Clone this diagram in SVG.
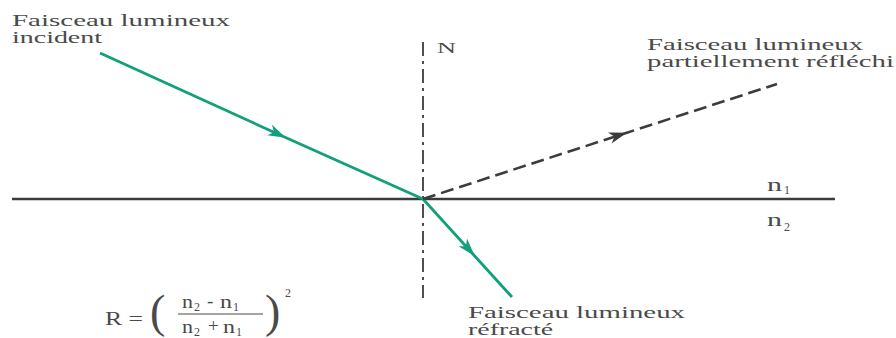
<svg xmlns="http://www.w3.org/2000/svg" width="896" height="338" viewBox="0 0 896 338">
<style>
.t{font-family:"Liberation Serif","DejaVu Serif","Times New Roman",serif;fill:#4a4a4a;}
.lbl{font-size:16px;}
.m{font-size:19px;}
.s{font-size:12px;}
.green{fill:none;stroke:#12a07a;stroke-width:2.8;stroke-linecap:butt;}
.dark{fill:none;stroke:#3c3c3c;}
</style>
<defs>
<marker id="ag" markerUnits="userSpaceOnUse" viewBox="-19 -7 21 14" refX="0" refY="0" markerWidth="21" markerHeight="14" orient="auto">
<path d="M1,0 L-17,-6 L-12,0 L-17,5.5 Z" fill="#12a07a"/>
</marker>
<marker id="ad" markerUnits="userSpaceOnUse" viewBox="-19 -7 21 14" refX="0" refY="0" markerWidth="21" markerHeight="14" orient="auto">
<path d="M1,0 L-17,-6 L-12,0 L-17,5.5 Z" fill="#3a3a3a"/>
</marker>
</defs>

<g id="interface">
<line class="dark" x1="12" y1="199" x2="835" y2="199" stroke-width="2.5"/>
</g>
<g id="normal">
<line class="dark" x1="423" y1="42" x2="423" y2="298" stroke-width="1.8" stroke-dasharray="14 5 3 5"/>
<text class="t" x="437" y="53" font-size="15" textLength="19" lengthAdjust="spacingAndGlyphs">N</text>
</g>

<g id="connectors">
<path id="incident-ray" class="green" d="M100,53 L285,137.3 L423,199" marker-mid="url(#ag)"/>
<path id="refracted-ray" class="green" d="M423,199 L474,255.2 L512,297" marker-mid="url(#ag)"/>
<path id="reflected-ray" class="dark" d="M423,199 L626,133 L777,84" stroke-width="2.6" stroke-dasharray="13 6" marker-mid="url(#ad)"/>
</g>

<g id="label-incident">
<text class="t lbl" x="12" y="26" textLength="218" lengthAdjust="spacingAndGlyphs">Faisceau lumineux</text>
<text class="t lbl" x="12" y="43" textLength="90" lengthAdjust="spacingAndGlyphs">incident</text>
</g>
<g id="label-reflected">
<text class="t lbl" x="647" y="50" textLength="216" lengthAdjust="spacingAndGlyphs">Faisceau lumineux</text>
<text class="t lbl" x="647" y="67" textLength="247" lengthAdjust="spacingAndGlyphs">partiellement réfléchi</text>
</g>
<g id="label-refracted">
<text class="t lbl" x="468" y="318" textLength="217" lengthAdjust="spacingAndGlyphs">Faisceau lumineux</text>
<text class="t lbl" x="468" y="335" textLength="85" lengthAdjust="spacingAndGlyphs">réfracté</text>
</g>
<g id="media">
<text class="t" x="767" y="191" font-size="18" textLength="15" lengthAdjust="spacingAndGlyphs">n</text>
<text class="t" x="784" y="194" font-size="12">1</text>
<text class="t" x="767" y="226" font-size="18" textLength="15" lengthAdjust="spacingAndGlyphs">n</text>
<text class="t" x="784" y="231" font-size="12">2</text>
</g>
<g id="formula">
<text class="t m" x="105" y="325" textLength="38" lengthAdjust="spacingAndGlyphs">R =</text>
<text class="t" x="150" y="327" font-size="46">(</text>
<text class="t m" x="182" y="308" textLength="11" lengthAdjust="spacingAndGlyphs">n</text>
<text class="t s" x="194" y="311">2</text>
<text class="t m" x="207" y="307">-</text>
<text class="t m" x="220" y="308" textLength="12" lengthAdjust="spacingAndGlyphs">n</text>
<text class="t s" x="233" y="311">1</text>
<line x1="178" y1="314" x2="263" y2="314" stroke="#4a4a4a" stroke-width="1.2"/>
<text class="t m" x="182" y="333" textLength="11" lengthAdjust="spacingAndGlyphs">n</text>
<text class="t s" x="194" y="336">2</text>
<text class="t m" x="208" y="332">+</text>
<text class="t m" x="223" y="333" textLength="12" lengthAdjust="spacingAndGlyphs">n</text>
<text class="t s" x="236" y="336">1</text>
<text class="t" x="265" y="327" font-size="46">)</text>
<text class="t s" x="285" y="297">2</text>
</g>
</svg>
